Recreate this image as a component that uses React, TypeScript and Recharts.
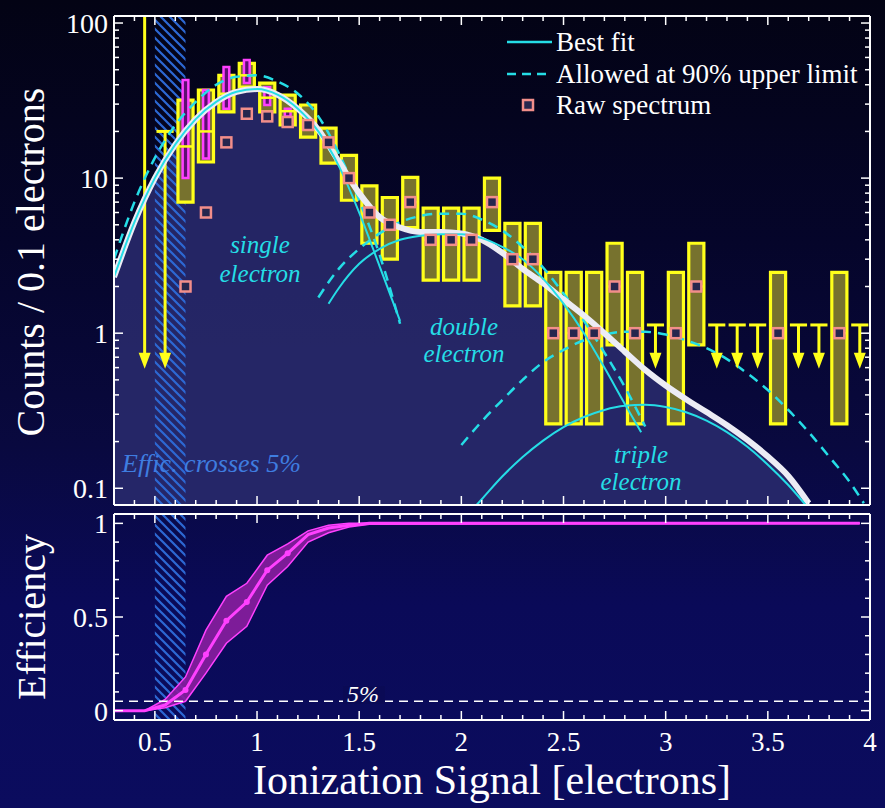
import React from 'react';
import {
  ComposedChart,
  XAxis,
  YAxis,
  Line,
  Area,
  Scatter,
  ReferenceArea,
  ReferenceLine,
} from 'recharts';

const FONT = 'Liberation Serif, Times New Roman, DejaVu Serif, serif';
const CYAN = '#25dde6';
const YELLOW = '#ffff1a';
const MAGENTA = '#ff40ff';
const PINK = '#f28e8a';

// ---- ticks ----
const xTicks = [0.3, 0.4, 0.5, 0.6, 0.7, 0.8, 0.9, 1, 1.1, 1.2, 1.3, 1.4, 1.5, 1.6, 1.7, 1.8, 1.9, 2,
  2.1, 2.2, 2.3, 2.4, 2.5, 2.6, 2.7, 2.8, 2.9, 3, 3.1, 3.2, 3.3, 3.4, 3.5, 3.6, 3.7, 3.8, 3.9, 4];
const xMajor = [0.5, 1, 1.5, 2, 2.5, 3, 3.5, 4];
const xMajorLabels = ['0.5', '1', '1.5', '2', '2.5', '3', '3.5', '4'];

const logTicks = [0.1, 0.2, 0.3, 0.4, 0.5, 0.6, 0.7, 0.8, 0.9, 1, 2, 3, 4, 5, 6, 7, 8, 9,
  10, 20, 30, 40, 50, 60, 70, 80, 90, 100];
const logMajor = [0.1, 1, 10, 100];
const logLabels = ['0.1', '1', '10', '100'];

const effTicks = [0, 0.1, 0.2, 0.3, 0.4, 0.5, 0.6, 0.7, 0.8, 0.9, 1];
const effMajor = [0, 0.5, 1];
const effLabels = ['0', '0.5', '1'];

// ---- measured spectrum, 0.1 electron bins ----
const binCenters = [0.65, 0.75, 0.85, 0.95, 1.05, 1.15, 1.25, 1.35, 1.45, 1.55, 1.65, 1.75, 1.85, 1.95,
  2.05, 2.15, 2.25, 2.35, 2.45, 2.55, 2.65, 2.75, 2.85, 3.05, 3.15, 3.55, 3.85];
const rawCounts = [2, 6, 17, 26, 25, 23, 22, 17, 10, 6, 5, 7, 4, 4, 4, 7, 3, 3, 1, 1, 1, 2, 1, 1, 2, 1, 1];
const boxMid = [16, 20, 35, 46, 33, 27, 23, 17, 10, 6, 5, 7, 4, 4, 4, 7, 3, 3, 1, 1, 1, 2, 1, 1, 2, 1, 1];
const boxLow = [7.0, 12.7, 26.7, 38.6, 26.7, 22, 18.4, 12.5, 7.2, 3.8, 3.0, 4.8, 2.2, 2.2, 2.2, 4.6, 1.5, 1.5,
  0.26, 0.26, 0.26, 0.84, 0.26, 0.26, 0.84, 0.26, 0.26];
const boxHigh = [31.8, 37, 46, 55, 41, 34.3, 29.6, 21, 14, 8.9, 7.5, 10.1, 6.4, 6.4, 6.4, 10, 5.1, 5.1,
  2.47, 2.47, 2.47, 3.8, 2.47, 2.47, 3.8, 2.47, 2.47];

// efficiency systematic error bars
const sysBins = [0.65, 0.75, 0.85, 0.95, 1.05, 1.15];
const sysLow = [10, 13.4, 28, 41, 29.6, 25];
const sysHigh = [42.9, 37, 52, 57.8, 38.6, 28];

// empty bins: 90% upper limits
const limitBins = [0.45, 0.55, 2.95, 3.25, 3.35, 3.45, 3.65, 3.75, 3.95];
const limitCaps = [200, 20, 1.13, 1.13, 1.13, 1.13, 1.13, 1.13, 1.13];
const limitTips = [0.59, 0.59, 0.59, 0.59, 0.59, 0.59, 0.59, 0.59, 0.59];

// ---- fit curves ----
const totalX = [0.3, 0.4, 0.5, 0.6, 0.7, 0.8, 0.9, 1.0, 1.1, 1.2, 1.3, 1.4, 1.5, 1.6, 1.7, 1.8, 1.9, 2.0,
  2.1, 2.2, 2.3, 2.4, 2.5, 2.6, 2.7, 2.8, 2.9, 3.0, 3.1, 3.2, 3.3, 3.4, 3.5, 3.6, 3.7];
const totalY = [2.3, 5.2, 10, 16.5, 24, 31, 36, 37.5, 34.5, 28, 20.5, 12.8, 8.0, 5.6, 4.8, 4.5, 4.5, 4.4,
  4.0, 3.3, 2.6, 2.1, 1.65, 1.3, 1.0, 0.76, 0.58, 0.46, 0.375, 0.31, 0.255, 0.205, 0.16, 0.12, 0.08];

const singleX = [0.3, 0.4, 0.5, 0.6, 0.7, 0.8, 0.9, 1.0, 1.1, 1.2, 1.3, 1.4, 1.5, 1.6, 1.7];
const singleY = [2.3, 5.2, 10, 16.5, 24, 31, 36, 37.5, 34.5, 28, 20, 12, 6, 2.7, 1.2];
const singleDashY = [3.0, 7.0, 13.5, 22, 31, 40, 45, 46, 42, 35, 25, 14.5, 7.2, 3.2, 1.15];

const doubleX = [1.35, 1.4, 1.5, 1.6, 1.7, 1.8, 1.9, 2.0, 2.1, 2.2, 2.3, 2.4, 2.5, 2.6, 2.7, 2.8, 2.88];
const doubleY = [1.55, 1.95, 2.8, 3.5, 4.0, 4.25, 4.35, 4.35, 4.1, 3.6, 3.0, 2.25, 1.55, 1.0, 0.6, 0.35, 0.23];
const doubleDashX = [1.3, 1.4, 1.5, 1.6, 1.7, 1.8, 1.9, 2.0, 2.1, 2.2, 2.3, 2.4, 2.5, 2.6, 2.7, 2.8, 2.9];
const doubleDashY = [1.7, 2.6, 3.5, 4.4, 5.2, 5.7, 5.9, 5.9, 5.4, 4.6, 3.6, 2.65, 1.8, 1.2, 0.75, 0.45, 0.25];

const tripleX = [2.05, 2.1, 2.2, 2.3, 2.4, 2.5, 2.6, 2.7, 2.8, 2.9, 3.0, 3.1, 3.2, 3.3, 3.4, 3.5, 3.6, 3.7];
const tripleY = [0.072, 0.085, 0.119, 0.159, 0.203, 0.248, 0.288, 0.32, 0.34, 0.345, 0.334, 0.309, 0.273,
  0.23, 0.185, 0.142, 0.105, 0.074];
const tripleDashX = [2.0, 2.1, 2.2, 2.3, 2.4, 2.5, 2.6, 2.7, 2.8, 2.9, 3.0, 3.1, 3.2, 3.3, 3.4, 3.5, 3.6,
  3.7, 3.8, 3.9, 3.97];
const tripleDashY = [0.19, 0.27, 0.37, 0.5, 0.65, 0.78, 0.9, 0.98, 1.02, 1.02, 0.98, 0.9, 0.8, 0.68, 0.55,
  0.43, 0.32, 0.23, 0.16, 0.11, 0.08];

// ---- efficiency ----
const effX = [0.3, 0.45, 0.55, 0.65, 0.75, 0.85, 0.95, 1.05, 1.15, 1.25, 1.35, 1.45, 1.55, 3.95];
const effMid = [0.0, 0.0, 0.03, 0.11, 0.3, 0.48, 0.58, 0.75, 0.84, 0.94, 0.975, 0.99, 1.0, 1.0];
const effLow = [0.0, 0.0, 0.015, 0.05, 0.2, 0.36, 0.45, 0.67, 0.77, 0.9, 0.95, 0.98, 0.995, 1.0];
const effHigh = [0.0, 0.0, 0.06, 0.18, 0.43, 0.61, 0.68, 0.83, 0.89, 0.96, 0.99, 1.0, 1.0, 1.0];
const effThreshold = 0.05;
const effCross = [0.5, 0.65];

const X_DOMAIN: [number, number] = [0.3, 4];
const LOG_DOMAIN: [number, number] = [0.078, 111];
const EFF_DOMAIN: [number, number] = [-0.05, 1.05];
const BOX_HALF = 0.037;
const SYS_HALF = 0.014;

const pts = (xs: number[], ys: number[]) => xs.map((x, i) => ({ x, y: ys[i] }));

const totalData = pts(totalX, totalY);
const rawData = pts(binCenters, rawCounts);
const tipData = pts(limitBins, limitTips);
const effLine = pts(effX, effMid);
const effBand = effX.map((x, i) => ({ x, band: [effLow[i], effHigh[i]] }));
const effDots = pts(effX.slice(3, 9), effMid.slice(3, 9));

const near = (a: number, b: number) => Math.abs(a - b) < 1e-6;

function xTick(dir: number, showLabel: boolean) {
  return (p: any) => {
    const v = p.payload.value;
    const mi = xMajor.findIndex((m) => near(m, v));
    const len = mi >= 0 ? 9 : 5;
    return (
      <g>
        <line x1={p.x} x2={p.x} y1={p.y} y2={p.y + dir * len} stroke="#fff" strokeWidth={1.5} />
        {showLabel && mi >= 0 && (
          <text x={p.x} y={p.y + 31} textAnchor="middle" fill="#fff" fontSize={27} fontFamily={FONT}>
            {xMajorLabels[mi]}
          </text>
        )}
      </g>
    );
  };
}

function yTick(dir: number, majors: number[], labels: string[] | null) {
  return (p: any) => {
    const v = p.payload.value;
    const mi = majors.findIndex((m) => near(m, v));
    const len = mi >= 0 ? 9 : 5;
    return (
      <g>
        <line x1={p.x} x2={p.x + dir * len} y1={p.y} y2={p.y} stroke="#fff" strokeWidth={1.5} />
        {labels && mi >= 0 && (
          <text x={p.x - 6} y={p.y + 10} textAnchor="end" fill="#fff" fontSize={28} fontFamily={FONT}>
            {labels[mi]}
          </text>
        )}
      </g>
    );
  };
}

const RawSquare = (p: any) => (
  <rect x={p.cx - 5} y={p.cy - 5} width={10} height={10} fill="#26264e" stroke={PINK} strokeWidth={2.5} />
);

const ArrowHead = (p: any) => (
  <path d={`M${p.cx - 6},${p.cy - 16} L${p.cx + 6},${p.cy - 16} L${p.cx},${p.cy} Z`} fill={YELLOW} />
);

const EffDot = (p: any) => <circle cx={p.cx} cy={p.cy} r={3} fill={MAGENTA} />;

const axisLine = { stroke: '#fff', strokeWidth: 2 };

function HatchDefs() {
  return (
    <defs>
      <pattern id="hatch" patternUnits="userSpaceOnUse" width={9} height={9}>
        <path d="M-1,-1 L10,10 M-1,8 L1,10 M8,-1 L10,1" stroke="#2c68d4" strokeWidth={2.2} />
      </pattern>
    </defs>
  );
}

function SpectrumPanel() {
  return (
    <ComposedChart width={885} height={510} margin={{ top: 0, right: 0, bottom: 0, left: 0 }}>
      <HatchDefs />
      <XAxis type="number" dataKey="x" domain={X_DOMAIN} allowDataOverflow ticks={xTicks} interval={0}
        tick={xTick(-1, false)} tickLine={false} tickSize={0} tickMargin={0} axisLine={axisLine} height={5} />
      <XAxis xAxisId="top" orientation="top" type="number" dataKey="x" domain={X_DOMAIN} allowDataOverflow
        ticks={xTicks} interval={0} tick={xTick(1, false)} tickLine={false} tickSize={0} tickMargin={0}
        axisLine={axisLine} height={16} />
      <YAxis type="number" dataKey="y" scale="log" domain={LOG_DOMAIN} allowDataOverflow ticks={logTicks}
        interval={0} tick={yTick(1, logMajor, logLabels)} tickLine={false} tickSize={0} tickMargin={0}
        axisLine={axisLine} width={114} />
      <YAxis yAxisId="right" orientation="right" type="number" dataKey="y" scale="log" domain={LOG_DOMAIN}
        allowDataOverflow ticks={logTicks} interval={0} tick={yTick(-1, logMajor, null)} tickLine={false}
        tickSize={0} tickMargin={0} axisLine={axisLine} width={15} />

      <Area data={totalData} dataKey="y" type="monotone" baseValue="dataMin" stroke="none"
        fill="#2a2b6e" fillOpacity={0.85} isAnimationActive={false} />
      <ReferenceArea x1={effCross[0]} x2={effCross[1]} fill="url(#hatch)" fillOpacity={1} ifOverflow="hidden" />

      {binCenters.map((c, i) => (
        <ReferenceArea key={'box' + i} x1={c - BOX_HALF} x2={c + BOX_HALF} y1={boxLow[i]} y2={boxHigh[i]}
          fill="#77722e" fillOpacity={1} stroke={YELLOW} strokeWidth={3.2} ifOverflow="hidden" />
      ))}
      {binCenters.map((c, i) => (
        <ReferenceLine key={'mid' + i} segment={[{ x: c - BOX_HALF, y: boxMid[i] }, { x: c + BOX_HALF, y: boxMid[i] }]}
          stroke={YELLOW} strokeWidth={2.5} ifOverflow="hidden" />
      ))}
      {sysBins.map((c, i) => (
        <ReferenceArea key={'sys' + i} x1={c - SYS_HALF} x2={c + SYS_HALF} y1={sysLow[i]} y2={sysHigh[i]}
          fill="#5c1070" fillOpacity={1} stroke={MAGENTA} strokeWidth={2.5} ifOverflow="hidden" />
      ))}
      {limitBins.map((c, i) => (
        <ReferenceLine key={'stem' + i} segment={[{ x: c, y: limitCaps[i] }, { x: c, y: limitTips[i] * 1.12 }]}
          stroke={YELLOW} strokeWidth={3} ifOverflow="hidden" />
      ))}
      {limitBins.map((c, i) => (
        <ReferenceLine key={'cap' + i}
          segment={[{ x: c - BOX_HALF - 0.005, y: limitCaps[i] }, { x: c + BOX_HALF + 0.005, y: limitCaps[i] }]}
          stroke={YELLOW} strokeWidth={3} ifOverflow="hidden" />
      ))}

      <Line data={pts(singleX, singleDashY)} dataKey="y" type="monotone" stroke={CYAN} strokeWidth={2.5}
        strokeDasharray="10 7" dot={false} isAnimationActive={false} />
      <Line data={pts(doubleDashX, doubleDashY)} dataKey="y" type="monotone" stroke={CYAN} strokeWidth={2.5}
        strokeDasharray="10 7" dot={false} isAnimationActive={false} />
      <Line data={pts(tripleDashX, tripleDashY)} dataKey="y" type="monotone" stroke={CYAN} strokeWidth={2.5}
        strokeDasharray="10 7" dot={false} isAnimationActive={false} />
      <Line data={totalData} dataKey="y" type="monotone" stroke="#ececf4" strokeWidth={6} dot={false}
        isAnimationActive={false} />
      <Line data={pts(singleX, singleY)} dataKey="y" type="monotone" stroke={CYAN} strokeWidth={2}
        dot={false} isAnimationActive={false} />
      <Line data={pts(doubleX, doubleY)} dataKey="y" type="monotone" stroke={CYAN} strokeWidth={2}
        dot={false} isAnimationActive={false} />
      <Line data={pts(tripleX, tripleY)} dataKey="y" type="monotone" stroke={CYAN} strokeWidth={2}
        dot={false} isAnimationActive={false} />

      <Scatter data={rawData} dataKey="y" shape={RawSquare} isAnimationActive={false} />
      <Scatter data={tipData} dataKey="y" shape={ArrowHead} isAnimationActive={false} />
    </ComposedChart>
  );
}

function EfficiencyPanel() {
  return (
    <ComposedChart width={885} height={303} margin={{ top: 0, right: 0, bottom: 0, left: 0 }}>
      <HatchDefs />
      <XAxis type="number" dataKey="x" domain={X_DOMAIN} allowDataOverflow ticks={xTicks} interval={0}
        tick={xTick(-1, true)} tickLine={false} tickSize={0} tickMargin={0} axisLine={axisLine} height={88} />
      <XAxis xAxisId="top" orientation="top" type="number" dataKey="x" domain={X_DOMAIN} allowDataOverflow
        ticks={xTicks} interval={0} tick={xTick(1, false)} tickLine={false} tickSize={0} tickMargin={0}
        axisLine={axisLine} height={9} />
      <YAxis type="number" dataKey="y" domain={EFF_DOMAIN} allowDataOverflow ticks={effTicks} interval={0}
        tick={yTick(1, effMajor, effLabels)} tickLine={false} tickSize={0} tickMargin={0}
        axisLine={axisLine} width={114} />
      <YAxis yAxisId="right" orientation="right" type="number" dataKey="y" domain={EFF_DOMAIN}
        allowDataOverflow ticks={effTicks} interval={0} tick={yTick(-1, effMajor, null)} tickLine={false}
        tickSize={0} tickMargin={0} axisLine={axisLine} width={15} />

      <ReferenceArea x1={effCross[0]} x2={effCross[1]} fill="url(#hatch)" fillOpacity={1} ifOverflow="hidden" />
      <ReferenceLine y={effThreshold} stroke="#fff" strokeWidth={1.5} strokeDasharray="9 6" />
      <Area data={effBand} dataKey="band" type="linear" stroke={MAGENTA} strokeWidth={1.5}
        fill="#8a1ea0" fillOpacity={0.9} isAnimationActive={false} />
      <Line data={effLine} dataKey="y" type="linear" stroke={MAGENTA} strokeWidth={3} dot={false}
        isAnimationActive={false} />
      <Scatter data={effDots} dataKey="y" shape={EffDot} isAnimationActive={false} />
    </ComposedChart>
  );
}

export default function App() {
  return (
    <div style={{
      position: 'absolute', left: 0, top: 0, width: 885, height: 808, overflow: 'hidden', fontFamily: FONT,
      background: 'linear-gradient(to bottom, #030314 0%, #05052a 30%, #09093f 55%, #0a0a58 75%, #0b0c5e 100%)',
    }}>
      <div style={{ position: 'absolute', left: 0, top: 0 }}>
        <SpectrumPanel />
      </div>
      <div style={{ position: 'absolute', left: 0, top: 505 }}>
        <EfficiencyPanel />
      </div>
      <svg width={885} height={808} fontFamily={FONT}
        style={{ position: 'absolute', left: 0, top: 0, pointerEvents: 'none' }}>
        <text transform="translate(44,262) rotate(-90)" textAnchor="middle" fill="#fff" fontSize={40}>
          Counts / 0.1 electrons
        </text>
        <text transform="translate(45,617) rotate(-90)" textAnchor="middle" fill="#fff" fontSize={40}>
          Efficiency
        </text>
        <text x={492} y={794} textAnchor="middle" fill="#fff" fontSize={42}>
          Ionization Signal [electrons]
        </text>

        <line x1={507} x2={552} y1={42} y2={42} stroke={CYAN} strokeWidth={2.5} />
        <text x={556} y={51} fill="#fff" fontSize={27}>Best fit</text>
        <line x1={507} x2={552} y1={74} y2={74} stroke={CYAN} strokeWidth={2.5} strokeDasharray="9 6" />
        <text x={556} y={83} fill="#fff" fontSize={27}>Allowed at 90% upper limit</text>
        <rect x={523} y={100} width={10} height={10} fill="#26264e" stroke={PINK} strokeWidth={2.5} />
        <text x={556} y={114} fill="#fff" fontSize={27}>Raw spectrum</text>

        <g fill={CYAN} fontSize={25} fontStyle="italic" textAnchor="middle">
          <text x={260} y={253}>single</text>
          <text x={260} y={282}>electron</text>
          <text x={464} y={335}>double</text>
          <text x={464} y={362}>electron</text>
          <text x={641} y={463}>triple</text>
          <text x={641} y={490}>electron</text>
        </g>
        <text x={122} y={472} fill="#3f7de0" fontSize={26} fontStyle="italic">Effic. crosses 5%</text>
        <rect x={343} y={686} width={42} height={18} fill="#0a0a55" />
        <text x={347} y={702} fill="#fff" fontSize={24} fontStyle="italic">5%</text>
      </svg>
    </div>
  );
}
